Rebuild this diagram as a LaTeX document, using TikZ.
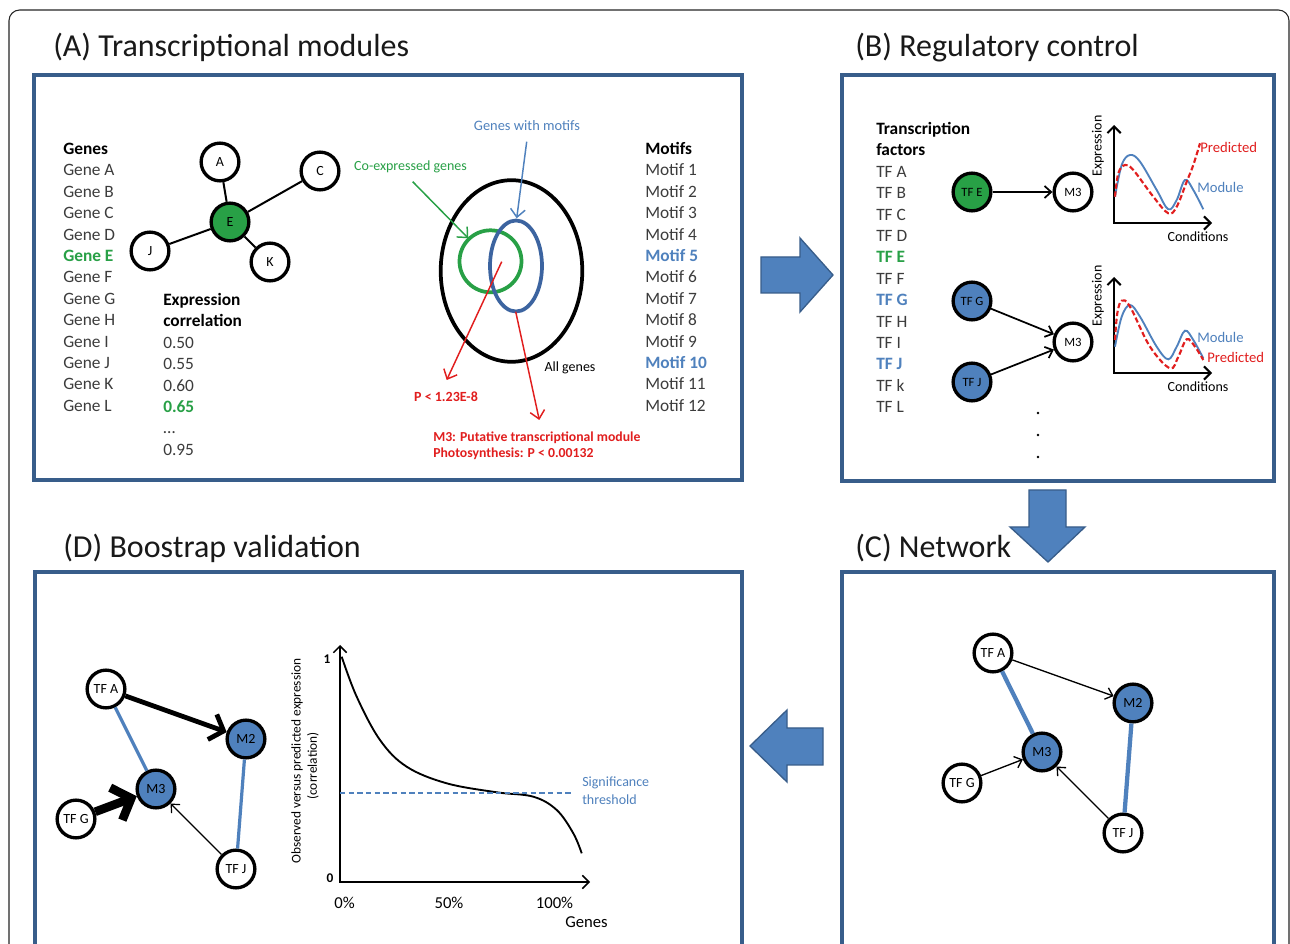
\documentclass[tikz,border=0pt]{standalone}
\usepackage{fontspec}
\setmainfont{Carlito}
\usetikzlibrary{arrows.meta}
\definecolor{pborder}{RGB}{56,93,138}
\definecolor{afill}{RGB}{79,129,189}
\definecolor{mygreen}{RGB}{40,160,70}
\definecolor{myblue}{RGB}{79,129,189}
\definecolor{vblue}{RGB}{60,100,160}
\definecolor{myred}{RGB}{225,30,30}
\definecolor{txtgray}{RGB}{60,60,60}
\newcommand\fsz[1]{\fontsize{#1}{#1}\selectfont}
\begin{document}
\begin{tikzpicture}[x=0.75pt,y=-0.75pt,
  panel/.style={draw=pborder,line width=2.3pt},
  ttl/.style={anchor=base west,inner sep=0pt,font=\fsz{24},text=black!90},
  lst/.style={anchor=base west,inner sep=0pt,font=\fsz{13},text=txtgray},
  gn/.style={circle,draw=black,line width=2.5pt,fill=white,minimum size=28.3pt,inner sep=0pt,font=\fsz{10.5}},
  tfn/.style={gn,font=\fsz{9.5}},
  bigarrow/.style={fill=afill,draw=pborder,line width=1pt},
  edge/.style={draw=black,line width=1.5pt},
  barb/.style={-{Straight Barb[length=5pt,width=9pt]}},
  thinarr/.style={draw=black,line width=1pt,barb},
  bthick/.style={draw=myblue,line width=3pt},
  lbl/.style={inner sep=0pt,font=\fsz{10}},
  axis/.style={draw=black,line width=1.5pt,{Straight Barb[length=5pt,width=10pt]}-{Straight Barb[length=5pt,width=10pt]}}
]
\useasboundingbox (0,0) rectangle (1290,944);
\clip (0,0) rectangle (1290,944);
\fill[white] (0,0) rectangle (1290,944);
% outer frame
\draw[line width=0.8pt,black!85,rounded corners=8pt] (9,1000) -- (9,10) -- (1289,10) -- (1289,1000);

% panels
\draw[panel] (34,75) rectangle (742,480);
\draw[panel] (842,75) rectangle (1274,481);
\draw[panel] (842,572) rectangle (1274,980);
\draw[panel] (35,572) rectangle (742,980);

% titles
\node[ttl] (tA) at (53,57) {(A) Transcriptional modules};
\node[ttl] (tB) at (855,57) {(B) Regulatory control};
\node[ttl] (tC) at (855,558) {(C) Network};
\node[ttl] (tD) at (63,558) {(D) Boostrap validation};

% big arrows
\filldraw[bigarrow] (761,257) -- (800,257) -- (800,238) -- (833,275) -- (800,312) -- (800,293) -- (761,293) -- cycle;
\filldraw[bigarrow] (1029,490) -- (1066,490) -- (1066,527) -- (1085,527) -- (1048,562) -- (1010,527) -- (1029,527) -- cycle;
\filldraw[bigarrow] (823,728) -- (787,728) -- (787,710) -- (750,746) -- (787,782) -- (787,765) -- (823,765) -- cycle;

% ---------- Panel A ----------
\foreach \t [count=\i from 0] in {{\textbf{\textcolor{black}{Genes}}},Gene A,Gene B,Gene C,Gene D,{\textbf{\textcolor{mygreen}{Gene E}}},Gene F,Gene G,Gene H,Gene I,Gene J,Gene K,Gene L}
  \node[lst] (g\i) at (63,{154.5+21.4*\i}) {\t};
\foreach \t [count=\i from 0] in {{\textbf{\textcolor{black}{Expression}}},{\textbf{\textcolor{black}{correlation}}},0.50,0.55,0.60,{\textbf{\textcolor{mygreen}{0.65}}},{\ldots},0.95}
  \node[lst] (x\i) at (163,{305.5+21.4*\i}) {\t};
\foreach \t [count=\i from 0] in {{\textbf{\textcolor{black}{Motifs}}},Motif 1,Motif 2,Motif 3,Motif 4,{\textbf{\textcolor{myblue}{Motif 5}}},Motif 6,Motif 7,Motif 8,Motif 9,{\textbf{\textcolor{myblue}{Motif 10}}},Motif 11,Motif 12}
  \node[lst] (m\i) at (645,{154.5+21.4*\i}) {\t};

\node[gn] (nA) at (220,162) {A};
\node[gn] (nC) at (320,171) {C};
\node[gn,fill=mygreen] (nE) at (230,222) {E};
\node[gn] (nJ) at (150,251) {J};
\node[gn] (nK) at (270,262) {K};
\draw[edge] (nE) -- (nA);
\draw[edge] (nE) -- (nC);
\draw[edge] (nE) -- (nJ);
\draw[edge] (nE) -- (nK);

% Venn
\draw[line width=2.8pt,black] (511.5,271) ellipse [x radius=70.8, y radius=90.8];
\draw[line width=2.8pt,mygreen] (490.5,261.3) circle [radius=31];
\draw[line width=2.8pt,vblue] (516,266) ellipse [x radius=26, y radius=45.5];

\node[lbl,text=myblue,font=\fsz{10.8}] (lgm) at (527,126) {Genes with motifs};
\node[lbl,text=mygreen,font=\fsz{10.5}] (lce) at (410.5,167) {Co-expressed genes};
\node[lbl,text=myred,font=\bfseries\fsz{10.5}] (lp) at (446,397) {P < 1.23E-8};
\node[lbl,font=\fsz{10.5}] (lall) at (570,368) {All genes};
\node[lbl,anchor=west,text=myred,font=\bfseries\fsz{10.3}] (lm3) at (433,438) {M3: Putative transcriptional module};
\node[lbl,anchor=west,text=myred,font=\bfseries\fsz{10.3}] (lph) at (433,454) {Photosynthesis: P < 0.00132};

\coordinate (vb1) at (526.7,141.7);
\coordinate (vb2) at (516.7,218.3);
\coordinate (vg1) at (412.7,181.7);
\coordinate (vg2) at (468.3,238.3);
\coordinate (vr1) at (501.7,261.7);
\coordinate (vr2) at (446.7,380);
\coordinate (vr3) at (515.7,311.7);
\coordinate (vr4) at (539.3,420);
\draw[line width=1.1pt,myblue,-{Straight Barb[length=6pt,width=11pt]}] (vb1) -- (vb2);
\draw[line width=1.1pt,mygreen,-{Straight Barb[length=6pt,width=11pt]}] (vg1) -- (vg2);
\draw[line width=1.1pt,myred,-{Straight Barb[length=6pt,width=11pt]}] (vr1) -- (vr2);
\draw[line width=1.1pt,myred,-{Straight Barb[length=6pt,width=11pt]}] (vr3) -- (vr4);

% ---------- Panel B ----------
\foreach \t [count=\i from 0] in {{\textbf{\textcolor{black}{Transcription}}},{\textbf{\textcolor{black}{factors}}},TF A,TF B,TF C,TF D,{\textbf{\textcolor{mygreen}{TF E}}},TF F,{\textbf{\textcolor{myblue}{TF G}}},TF H,TF I,{\textbf{\textcolor{myblue}{TF J}}},TF k,TF L}
  \node[lst] (tf\i) at (876,{134.5+21.4*\i}) {\t};

\node[tfn,fill=mygreen] (bE) at (972,192) {TF E};
\node[tfn] (bM1) at (1073,192) {M3};
\node[tfn,fill=afill] (bG) at (972,301) {TF G};
\node[tfn] (bM2) at (1073,342) {M3};
\node[tfn,fill=afill] (bJ) at (972,382) {TF J};
\draw[thinarr,line width=1.3pt] (bE) -- (bM1);
\draw[thinarr,line width=1.3pt] (bG) -- (bM2);
\draw[thinarr,line width=1.3pt] (bJ) -- (bM2);
\fill (1038,413) circle [radius=1.3];
\fill (1038,435) circle [radius=1.3];
\fill (1038,457) circle [radius=1.3];

% chart 1
\coordinate (o1) at (1114,223);
\draw[axis] (1114,125) -- (o1) -- (1212,223);
\draw[myblue,line width=1.4pt] plot[smooth,tension=0.6] coordinates {(1115,196.7) (1121.7,165) (1130,155) (1140,161.7) (1156.7,190) (1168.3,209.3) (1176.7,200) (1185,180) (1193.3,190) (1203.3,209.3)};
\draw[myred,line width=1.6pt,dash pattern=on 4pt off 2pt] plot[smooth,tension=0.6] coordinates {(1115,196.7) (1118.3,173.3) (1125,165) (1133.3,170) (1153.3,196.7) (1168.3,213.3) (1176.7,206.7) (1186.7,181.7) (1193.3,165) (1200,143.3)};
\node[lbl,font=\fsz{10.5},rotate=90] (ex1) at (1098,146) {Expression};
\node[lbl,font=\fsz{10.5}] (co1) at (1198,237) {Conditions};
\node[lbl,anchor=west,text=myred,font=\fsz{11}] (pr1) at (1200,147) {Predicted};
\node[lbl,anchor=west,text=myblue,font=\fsz{11}] (mo1) at (1197,187) {Module};

% chart 2
\coordinate (o2) at (1114,373);
\draw[axis] (1114,277) -- (o2) -- (1212,373);
\draw[myblue,line width=1.4pt] plot[smooth,tension=0.6] coordinates {(1115,346.7) (1121.7,316.7) (1130,305) (1140,316.7) (1156.7,346.7) (1168.3,359.3) (1176.7,346.7) (1185,330.7) (1193.3,340) (1203.3,358.3)};
\draw[myred,line width=1.6pt,dash pattern=on 4pt off 2pt] plot[smooth,tension=0.6] coordinates {(1115,340) (1117.3,313.3) (1121.7,300.7) (1130,306.7) (1150,346.7) (1170,368.3) (1178.3,356.7) (1186.7,339.3) (1195,346.7) (1203.3,360)};
\node[lbl,font=\fsz{10.5},rotate=90] (ex2) at (1098,296) {Expression};
\node[lbl,font=\fsz{10.5}] (co2) at (1198,387) {Conditions};
\node[lbl,anchor=west,text=myblue,font=\fsz{11}] (mo2) at (1197,337) {Module};
\node[lbl,anchor=west,text=myred,font=\fsz{11}] (pr2) at (1207,357) {Predicted};

% ---------- Panel C ----------
\node[gn] (cA) at (993,653) {TF A};
\node[gn,fill=afill] (cM2) at (1133,703) {M2};
\node[gn,fill=afill] (cM3) at (1042,752) {M3};
\node[gn] (cG) at (962,783) {TF G};
\node[gn] (cJ) at (1123,833) {TF J};
\draw[bthick,line width=3.2pt] (cA) -- (cM3);
\draw[bthick,line width=3.2pt] (cM2) -- (cJ);
\draw[thinarr] (cA) -- (cM2);
\draw[thinarr] (cG) -- (cM3);
\draw[thinarr] (cJ) -- (cM3);

% ---------- Panel D ----------
\node[gn] (dA) at (106,689) {TF A};
\node[gn,fill=afill] (dM2) at (246,739) {M2};
\node[gn,fill=afill] (dM3) at (156,789) {M3};
\node[gn] (dG) at (76,819) {TF G};
\node[gn] (dJ) at (236,869) {TF J};
\draw[bthick,line width=2.4pt] (dA) -- (dM3);
\draw[bthick,line width=2.4pt] (dM2) -- (dJ);
\draw[line width=3.6pt,-{Straight Barb[length=9pt,width=20pt]}] (dA) -- (dM2);
\draw[line width=6.5pt,-{Straight Barb[length=12pt,width=26pt]}] (dG) -- (dM3);
\draw[thinarr,line width=0.9pt] (dJ) -- (dM3);

% chart D
\coordinate (oD) at (340,882);
\draw[axis,line width=1.1pt] (340,645) -- (oD) -- (590,882);
\draw[black,line width=1.4pt] plot[smooth,tension=0.6] coordinates {(341.7,656.7) (356.7,696.7) (380,740) (406.7,766.7) (446.7,783.3) (496.7,792.3) (533.3,796.7) (556.7,810) (573.3,833.3) (581.7,853.3)};
\draw[myblue,line width=0.9pt,dash pattern=on 4pt off 2.5pt] (340,793) -- (572,793);
\node[lbl,font=\bfseries\fsz{10}] (y1) at (327,659) {1};
\node[lbl,font=\bfseries\fsz{10}] (y0) at (330,878) {0};
\node[lbl,font=\fsz{12.5}] (p0) at (344.5,903) {0\%};
\node[lbl,font=\fsz{12.5}] (p50) at (449,903) {50\%};
\node[lbl,font=\fsz{12.5}] (p100) at (554.5,903) {100\%};
\node[lbl,font=\fsz{12.5}] (gx) at (586.5,921.7) {Genes};
\node[lbl,anchor=west,text=myblue,font=\fsz{10.5}] (sig1) at (582,783) {Significance};
\node[lbl,anchor=west,text=myblue,font=\fsz{10.5}] (sig2) at (582,800) {threshold};
\node[lbl,font=\fsz{10},rotate=90] (yl1) at (297,761) {Observed versus predicted expression};
\node[lbl,font=\fsz{10},rotate=90] (yl2) at (313,766) {(correlation)};
\end{tikzpicture}
\end{document}
